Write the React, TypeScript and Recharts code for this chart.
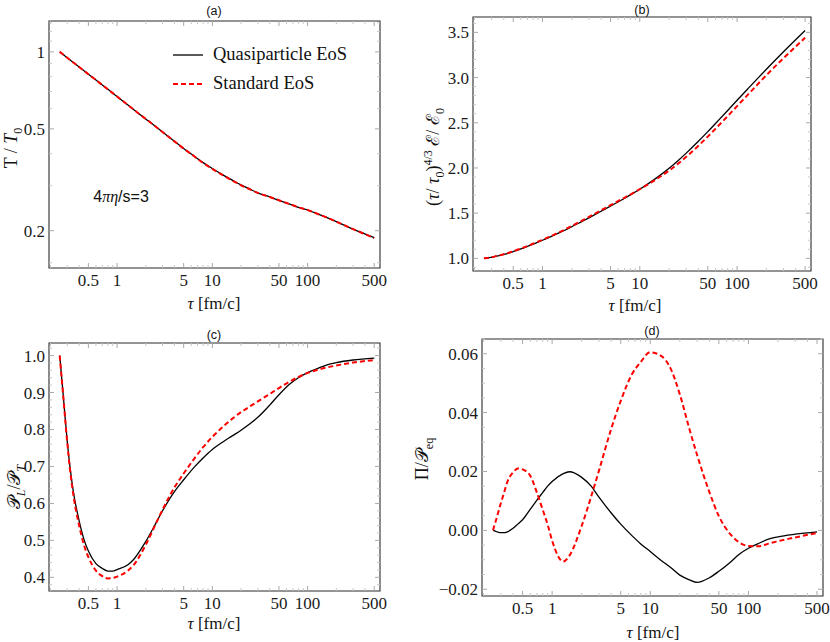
import { LineChart, Line, XAxis, YAxis, ReferenceArea, Legend } from 'recharts'
import type { ReactNode } from 'react'

const SERIF = '"Liberation Serif", "DejaVu Serif", serif'
const SANS = '"Liberation Sans", "DejaVu Sans", sans-serif'

// proper time grid, fm/c
const tau = [
  0.25, 0.26, 0.27, 0.28, 0.3, 0.32, 0.35, 0.4, 0.45, 0.5,
  0.6, 0.7, 0.8, 0.9, 1, 1.3, 1.5, 2, 2.5, 3,
  4, 5, 6.5, 8, 10, 13, 16, 20, 25, 30,
  40, 50, 65, 80, 100, 130, 160, 200, 300, 500,
]

// (a) T / T0
const tempQuasi = [
  1.0, 0.989, 0.978, 0.968, 0.948, 0.931, 0.907, 0.872, 0.843, 0.818,
  0.776, 0.742, 0.714, 0.69, 0.669, 0.62, 0.594, 0.547, 0.513, 0.486,
  0.447, 0.419, 0.39, 0.369, 0.35, 0.33, 0.316, 0.302, 0.29, 0.281,
  0.271, 0.263, 0.254, 0.247, 0.241, 0.232, 0.225, 0.217, 0.203, 0.188,
]
const tempStandard = [
  1.0, 0.989, 0.978, 0.968, 0.948, 0.931, 0.907, 0.872, 0.843, 0.818,
  0.776, 0.742, 0.714, 0.69, 0.669, 0.62, 0.594, 0.547, 0.513, 0.486,
  0.447, 0.419, 0.39, 0.368, 0.349, 0.329, 0.315, 0.301, 0.29, 0.281,
  0.271, 0.263, 0.254, 0.247, 0.241, 0.232, 0.225, 0.217, 0.203, 0.187,
]

// (b) (tau/tau0)^{4/3} e / e0
const energyQuasi = [
  1.0, 1.002, 1.004, 1.006, 1.012, 1.018, 1.027, 1.043, 1.059, 1.075,
  1.104, 1.132, 1.157, 1.18, 1.2, 1.254, 1.284, 1.35, 1.404, 1.448,
  1.521, 1.578, 1.646, 1.702, 1.765, 1.846, 1.915, 1.996, 2.086, 2.164,
  2.295, 2.402, 2.532, 2.636, 2.749, 2.88, 2.983, 3.092, 3.286, 3.521,
]
const energyStandard = [
  1.0, 1.002, 1.004, 1.006, 1.013, 1.019, 1.029, 1.045, 1.062, 1.078,
  1.108, 1.136, 1.161, 1.185, 1.205, 1.26, 1.291, 1.358, 1.413, 1.458,
  1.532, 1.588, 1.654, 1.706, 1.765, 1.838, 1.9, 1.971, 2.051, 2.123,
  2.245, 2.347, 2.472, 2.573, 2.684, 2.814, 2.917, 3.026, 3.214, 3.441,
]

// (c) P_L / P_T
const ratioQuasi = [
  1.0, 0.951, 0.903, 0.855, 0.768, 0.7, 0.627, 0.553, 0.502, 0.471,
  0.437, 0.424, 0.417, 0.417, 0.421, 0.434, 0.449, 0.497, 0.542, 0.58,
  0.632, 0.664, 0.699, 0.723, 0.746, 0.767, 0.782, 0.798, 0.816, 0.833,
  0.866, 0.894, 0.923, 0.94, 0.954, 0.966, 0.975, 0.981, 0.988, 0.993,
]
const ratioStandard = [
  1.0, 0.949, 0.901, 0.853, 0.765, 0.694, 0.618, 0.54, 0.487, 0.455,
  0.418, 0.403, 0.397, 0.398, 0.402, 0.418, 0.434, 0.488, 0.54, 0.583,
  0.643, 0.681, 0.722, 0.752, 0.78, 0.808, 0.828, 0.847, 0.863, 0.876,
  0.896, 0.912, 0.93, 0.942, 0.953, 0.962, 0.968, 0.973, 0.981, 0.988,
]

// (d) Pi / P_eq
const bulkQuasi = [
  0.0, -0.0002, -0.0004, -0.0006, -0.0008, -0.0008, -0.0005, 0.0007, 0.0022, 0.0036,
  0.0072, 0.0103, 0.0128, 0.015, 0.0166, 0.0193, 0.0199, 0.018, 0.015, 0.0113,
  0.0059, 0.0021, -0.0018, -0.0046, -0.0072, -0.0103, -0.0125, -0.0152, -0.0168, -0.0177,
  -0.0161, -0.0139, -0.0109, -0.0082, -0.0061, -0.0043, -0.003, -0.0022, -0.0013, -0.0005,
]
const bulkStandard = [
  0.0, 0.002, 0.0038, 0.0057, 0.0092, 0.0122, 0.0165, 0.0197, 0.021, 0.0207,
  0.0185, 0.0128, 0.0071, 0.002, -0.0035, -0.0106, -0.0086, 0.0015, 0.0115, 0.0203,
  0.0345, 0.044, 0.053, 0.0572, 0.0605, 0.0592, 0.0552, 0.0462, 0.0345, 0.0256,
  0.013, 0.0048, -0.0012, -0.004, -0.0053, -0.0054, -0.0045, -0.0037, -0.0024, -0.0009,
]

const seriesNames = ['Quasiparticle EoS', 'Standard EoS']

const xDomain: [number, number] = [0.193, 575]
const xMajor = [0.5, 1, 5, 10, 50, 100, 500]
const xMinor = [0.2, 0.3, 0.4, 0.6, 0.7, 0.8, 0.9, 2, 3, 4, 6, 7, 8, 9, 20, 30, 40, 60, 70, 80, 90, 200, 300, 400]

function steps(from: number, to: number, step: number, skip: number[]): number[] {
  const out: number[] = []
  for (let v = from; v <= to + 1e-9; v += step) {
    const r = Math.round(v * 1e6) / 1e6
    if (!skip.some(s => Math.abs(s - r) < 1e-9)) out.push(r)
  }
  return out
}

interface PanelSpec {
  box: { left: number; top: number; width: number; height: number }
  frame: { left: number; right: number; top: number; bottom: number }
  yScale: 'log' | 'linear'
  yDomain: [number, number]
  yMajor: number[]
  yMinor: number[]
  yFormat: (v: number) => string
  quasi: number[]
  standard: number[]
  legend?: boolean
}

const panelA: PanelSpec = {
  box: { left: 0, top: 0, width: 415, height: 321 },
  frame: { left: 49, right: 380, top: 21, bottom: 268 },
  yScale: 'log',
  yDomain: [0.143, 1.32],
  yMajor: [0.2, 0.5, 1],
  yMinor: [0.15, 0.3, 0.4, 0.6, 0.7, 0.8, 0.9, 1.1, 1.2, 1.3],
  yFormat: v => String(v),
  quasi: tempQuasi,
  standard: tempStandard,
  legend: true,
}

const bMajor = [1, 1.5, 2, 2.5, 3, 3.5]
const panelB: PanelSpec = {
  box: { left: 415, top: 0, width: 415, height: 321 },
  frame: { left: 473, right: 811, top: 17, bottom: 271 },
  yScale: 'linear',
  yDomain: [0.86, 3.67],
  yMajor: bMajor,
  yMinor: steps(0.9, 3.6, 0.1, bMajor),
  yFormat: v => v.toFixed(1),
  quasi: energyQuasi,
  standard: energyStandard,
}

const cMajor = [0.4, 0.5, 0.6, 0.7, 0.8, 0.9, 1]
const panelC: PanelSpec = {
  box: { left: 0, top: 321, width: 415, height: 321 },
  frame: { left: 49, right: 380, top: 343, bottom: 591 },
  yScale: 'linear',
  yDomain: [0.363, 1.034],
  yMajor: cMajor,
  yMinor: steps(0.38, 1.02, 0.02, cMajor),
  yFormat: v => v.toFixed(1),
  quasi: ratioQuasi,
  standard: ratioStandard,
}

const dMajor = [-0.02, 0, 0.02, 0.04, 0.06]
const panelD: PanelSpec = {
  box: { left: 415, top: 321, width: 415, height: 321 },
  frame: { left: 482, right: 823, top: 339, bottom: 596 },
  yScale: 'linear',
  yDomain: [-0.0223, 0.065],
  yMajor: dMajor,
  yMinor: steps(-0.02, 0.065, 0.005, dMajor),
  yFormat: v => (v < 0 ? '\u2212' + Math.abs(v).toFixed(2) : v.toFixed(2)),
  quasi: bulkQuasi,
  standard: bulkStandard,
}

const isIn = (list: number[], v: number) => list.some(m => Math.abs(m - v) < 1e-9)

const TICK_FONT = 17

function makeXTick(plotTop: number) {
  return (props: any) => {
    const { x, y, payload } = props
    const v = payload.value as number
    const major = isIn(xMajor, v)
    const len = major ? 5 : 3
    const col = major ? '#a8a8a8' : '#c6c6c6'
    return (
      <g>
        <line x1={x} x2={x} y1={y} y2={y - len} stroke={col} />
        <line x1={x} x2={x} y1={plotTop} y2={plotTop + len} stroke={col} />
        {major && (
          <text x={x} y={y + 18} textAnchor="middle" fontFamily={SERIF} fontSize={TICK_FONT} fill="#1a1a1a">
            {String(v)}
          </text>
        )}
      </g>
    )
  }
}

function makeYTick(plotRight: number, spec: PanelSpec) {
  return (props: any) => {
    const { x, y, payload } = props
    const v = payload.value as number
    const major = isIn(spec.yMajor, v)
    const len = major ? 5 : 3
    const col = major ? '#a8a8a8' : '#c6c6c6'
    return (
      <g>
        <line x1={x} x2={x + len} y1={y} y2={y} stroke={col} />
        <line x1={plotRight} x2={plotRight - len} y1={y} y2={y} stroke={col} />
        {major && (
          <text x={x - 4} y={y + 6} textAnchor="end" fontFamily={SERIF} fontSize={TICK_FONT} fill="#1a1a1a">
            {spec.yFormat(v)}
          </text>
        )}
      </g>
    )
  }
}

function SeriesKey() {
  return (
    <div style={{ fontFamily: SERIF, fontSize: 18.5, color: '#111' }}>
      {seriesNames.map((name, i) => (
        <div key={name} style={{ display: 'flex', alignItems: 'center', height: 29 }}>
          <svg width={43} height={10}>
            <line
              x1={3}
              x2={33}
              y1={5}
              y2={5}
              stroke={i === 0 ? '#000' : '#ff0000'}
              strokeWidth={i === 0 ? 1.3 : 2}
              strokeDasharray={i === 0 ? undefined : '5 3'}
            />
          </svg>
          <span style={{ whiteSpace: 'nowrap' }}>{name}</span>
        </div>
      ))}
    </div>
  )
}

function Panel({ spec }: { spec: PanelSpec }) {
  const { box, frame } = spec
  const plotTop = frame.top - box.top
  const plotLeft = frame.left - box.left
  const plotRight = frame.right - box.left
  const plotBottom = frame.bottom - box.top
  const data = tau.map((t, i) => ({ tau: t, quasi: spec.quasi[i], standard: spec.standard[i] }))

  return (
    <div style={{ position: 'absolute', left: box.left, top: box.top, width: box.width, height: box.height }}>
      <LineChart
        width={box.width}
        height={box.height}
        data={data}
        margin={{ top: plotTop, right: box.width - plotRight, bottom: 0, left: 0 }}
      >
        <XAxis
          dataKey="tau"
          type="number"
          scale="log"
          domain={xDomain}
          allowDataOverflow
          ticks={[...xMajor, ...xMinor]}
          interval={0}
          tickSize={0}
          tickMargin={0}
          axisLine={false}
          tickLine={false}
          height={box.height - plotBottom}
          tick={makeXTick(plotTop)}
        />
        <YAxis
          type="number"
          scale={spec.yScale}
          domain={spec.yDomain}
          allowDataOverflow
          ticks={[...spec.yMajor, ...spec.yMinor]}
          interval={0}
          tickSize={0}
          tickMargin={0}
          axisLine={false}
          tickLine={false}
          width={plotLeft}
          tick={makeYTick(plotRight, spec)}
        />
        <ReferenceArea
          x1={xDomain[0]}
          x2={xDomain[1]}
          y1={spec.yDomain[0]}
          y2={spec.yDomain[1]}
          fill="none"
          stroke="#2b2b2b"
          strokeWidth={1.1}
          ifOverflow="visible"
        />
        <Line
          dataKey="quasi"
          name={seriesNames[0]}
          type="monotone"
          stroke="#000"
          strokeWidth={1.3}
          dot={false}
          isAnimationActive={false}
        />
        <Line
          dataKey="standard"
          name={seriesNames[1]}
          type="monotone"
          stroke="#ff0000"
          strokeWidth={2}
          strokeDasharray="5 3"
          dot={false}
          isAnimationActive={false}
        />
        {spec.legend && (
          <Legend
            layout="vertical"
            align="center"
            verticalAlign="middle"
            wrapperStyle={{ left: 170, top: 40, width: 'auto', height: 'auto' }}
            content={() => <SeriesKey />}
          />
        )}
      </LineChart>
    </div>
  )
}

function Note(props: { x: number; y: number; size?: number; font?: string; rotate?: boolean; children: ReactNode }) {
  return (
    <div
      style={{
        position: 'absolute',
        left: props.x,
        top: props.y,
        transform: props.rotate ? 'translate(-50%, -50%) rotate(-90deg)' : 'translate(-50%, -50%)',
        whiteSpace: 'nowrap',
        fontFamily: props.font ?? SERIF,
        fontSize: props.size ?? 17,
        color: '#111',
        lineHeight: 1,
      }}
    >
      {props.children}
    </div>
  )
}

const sub = { fontSize: 12 }

const tauLabel = (
  <>
    <i>τ</i> [fm/c]
  </>
)

export default function App() {
  return (
    <div style={{ position: 'absolute', left: 0, top: 0, width: 830, height: 642, background: '#fff' }}>
      <Panel spec={panelA} />
      <Panel spec={panelB} />
      <Panel spec={panelC} />
      <Panel spec={panelD} />

      <Note x={214} y={11} size={12.5} font={SANS}>(a)</Note>
      <Note x={642} y={10} size={12.5} font={SANS}>(b)</Note>
      <Note x={214} y={335} size={12.5} font={SANS}>(c)</Note>
      <Note x={652} y={331} size={12.5} font={SANS}>(d)</Note>

      <Note x={214} y={303}>{tauLabel}</Note>
      <Note x={635} y={305}>{tauLabel}</Note>
      <Note x={214} y={623}>{tauLabel}</Note>
      <Note x={653} y={632}>{tauLabel}</Note>

      <Note x={13} y={148} size={18} rotate>
        T / <i>T</i><sub style={sub}>0</sub>
      </Note>
      <Note x={434} y={157} size={18} rotate>
        (<i>τ</i>/ <i>τ</i><sub style={sub}>0</sub>)<sup style={sub}>4/3</sup> ℰ/ ℰ<sub style={sub}>0</sub>
      </Note>
      <Note x={16} y={487} size={18} rotate>
        𝒫<sub style={sub}><i>L</i></sub>/𝒫<sub style={sub}><i>T</i></sub>
      </Note>
      <Note x={424} y={459} size={18} rotate>
        Π/𝒫<sub style={sub}>eq</sub>
      </Note>

      <Note x={121} y={197} size={16} font={SANS}>
        4<i style={{ fontFamily: SERIF }}>πη</i>/s=3
      </Note>
    </div>
  )
}
